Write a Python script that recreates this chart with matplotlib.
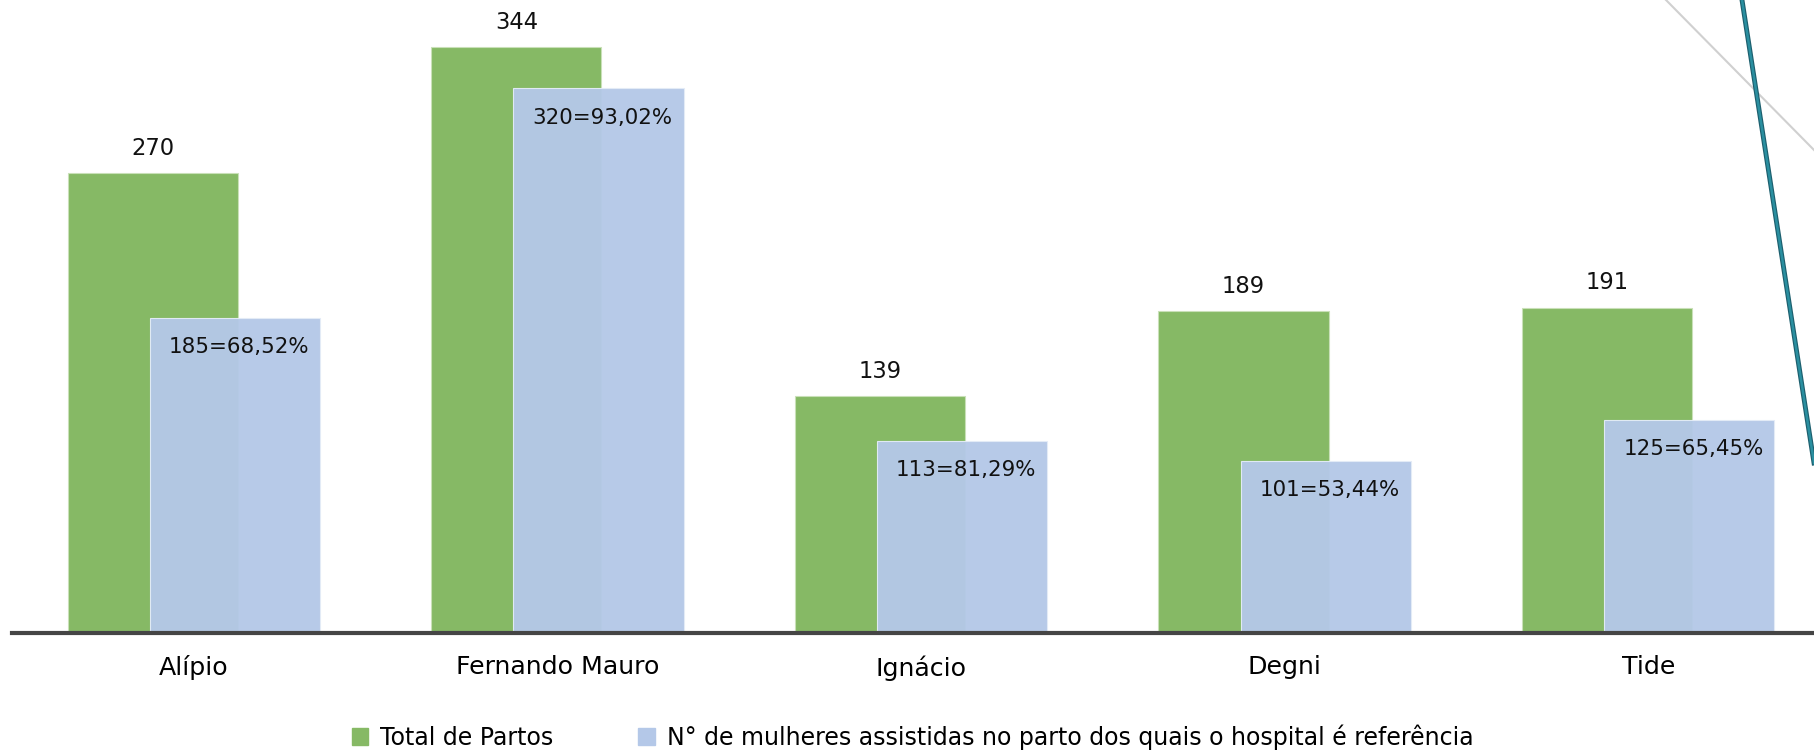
import matplotlib.pyplot as plt
import numpy as np
from matplotlib.lines import Line2D
from matplotlib.patches import Patch

categorias = ["Alípio", "Fernando Mauro", "Ignácio", "Degni", "Tide"]
total_partos = [270, 344, 139, 189, 191]
assistidas = [185, 320, 113, 101, 125]
rotulos_assistidas = ["185=68,52%", "320=93,02%", "113=81,29%", "101=53,44%", "125=65,45%"]

verde = "#86b965"
azul = "#b4c8e8"

fig = plt.figure(figsize=(18.14, 7.5), dpi=100)
ax = fig.add_axes([12 / 1814, 1 - 633 / 750, 1 - 12 / 1814, 633 / 750])

x = np.arange(len(categorias))
largura = 0.468
desloc = 0.113

ax.bar(x - desloc, total_partos, largura, color=verde, edgecolor="#c9e0b8", lw=0.8, zorder=2)
ax.bar(x + desloc, assistidas, largura, color=azul, alpha=0.96, edgecolor="#e4ecf7", lw=0.8, zorder=3)

for xi, v in zip(x, total_partos):
    ax.annotate(str(v), (xi - desloc, v), xytext=(0, 18), textcoords="offset points",
                ha="center", va="center", fontsize=16.3, color="#111111")
for xi, v, t in zip(x, assistidas, rotulos_assistidas):
    ax.annotate(t, (xi + desloc, v), xytext=(3, -21), textcoords="offset points",
                ha="center", va="center", fontsize=15.4, color="#111111", zorder=5)

ax.set_xlim(-0.5, -0.5 + 1802 / 363.6)
ax.set_ylim(0, 371.9)
ax.set_xticks(x)
ax.set_xticklabels(categorias, fontsize=18.2)
ax.tick_params(axis="x", length=0, pad=16)
ax.set_yticks([])
for s in ["top", "right", "left"]:
    ax.spines[s].set_visible(False)
ax.spines["bottom"].set_color("#454545")
ax.spines["bottom"].set_linewidth(3)
ax.spines["bottom"].set_zorder(4)

# linhas decorativas no canto superior direito
fig.add_artist(Line2D([1666 / 1814, 1.0], [1.0, 1 - 150 / 750], color="#d0d0d0", lw=1.5))
fig.add_artist(Line2D([1742 / 1814, 1.0], [1.0, 1 - 463 / 750], color="#1d5f6e", lw=3.5))
fig.add_artist(Line2D([1742 / 1814, 1.0], [1.0, 1 - 463 / 750], color="#2a8fa0", lw=1.8))

handles = [Patch(color=verde), Patch(color=azul)]
labels = ["Total de Partos", "N° de mulheres assistidas no parto dos quais o hospital é referência"]
fig.legend(handles, labels, loc="center", bbox_to_anchor=(0.503, 0.017), ncol=2, frameon=False,
           handlelength=0.7, handleheight=0.7, handletextpad=0.5, columnspacing=3.6,
           prop={"family": "DejaVu Sans", "size": 17})

fig.savefig("out.png", dpi=100)
